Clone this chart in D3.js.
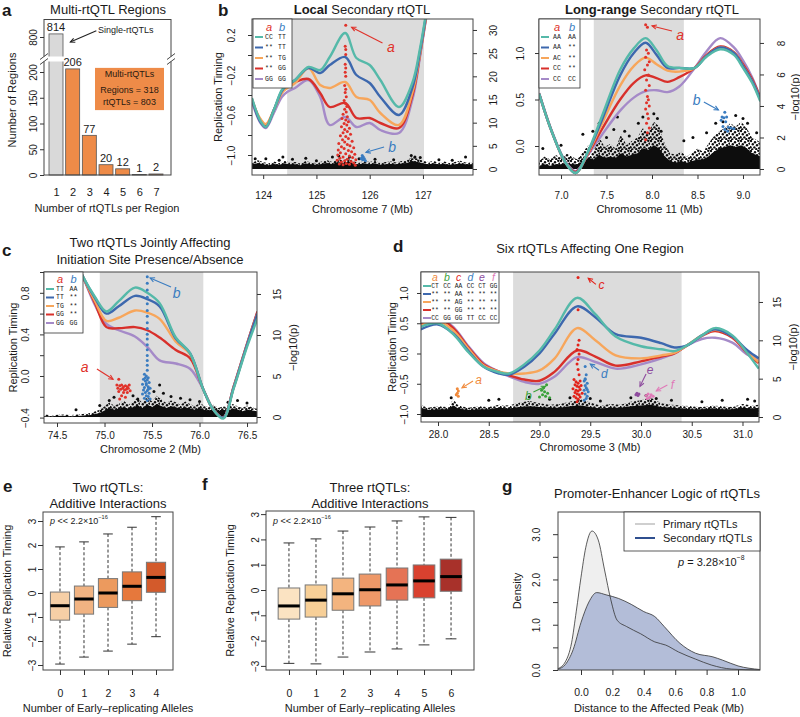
<!DOCTYPE html>
<html><head><meta charset="utf-8">
<script src="https://cdn.jsdelivr.net/npm/d3@7/dist/d3.min.js"></script>
<style>
html,body{margin:0;padding:0;background:#fff;}
svg{display:block;font-family:"Liberation Sans",Arial,Helvetica,sans-serif;}
</style></head><body>
<svg id="fig" width="800" height="717"></svg>
<script>
// ================= DATA =================
// ---- panel a ----
const aCats = [1,2,3,4,5,6,7];
const aCounts = [814,206,77,20,12,1,2];
const aLowTicks = [0,50,100,150,200];
const aHighTicks = [800];
const aBoxLines = ["Multi-rtQTLs","Regions = 318","rtQTLs = 803"];

// ---- genotype groups (teal, blue, orange, red, purple) ----
const grpColors = ["#55b9a9","#3d68ae","#f7a65b","#d8302b","#a58ac8"];

// ---- panel b (left): chr7 ----
const bL_shade = [124.45,127.02];
const bL_x = [123.79,123.95,124.05,124.2,124.35,124.45,124.6,124.85,125.07,125.25,125.54,125.75,126.0,126.2,126.55,126.8,126.95,127.1,127.4];
const bL_teal   = [-0.43,-0.66,-0.72,-0.55,-0.35,-0.30,-0.25,-0.12,-0.15,-0.02,0.22,-0.03,-0.10,-0.25,-0.52,-0.28,0.08,0.55,1.4];
const bL_blue   = [-0.45,-0.67,-0.72,-0.55,-0.36,-0.30,-0.25,-0.13,-0.18,-0.10,-0.02,-0.20,-0.28,-0.42,-0.60,-0.33,0.05,0.53,1.4];
const bL_orange = [-0.46,-0.64,-0.69,-0.55,-0.38,-0.33,-0.28,-0.13,-0.30,-0.33,-0.27,-0.42,-0.45,-0.58,-0.70,-0.38,0.03,0.52,1.4];
const bL_red    = [-0.44,-0.66,-0.71,-0.55,-0.37,-0.31,-0.27,-0.24,-0.38,-0.52,-0.48,-0.63,-0.63,-0.68,-0.73,-0.41,0.02,0.51,1.4];
const bL_purple = [-0.47,-0.68,-0.73,-0.58,-0.42,-0.37,-0.33,-0.25,-0.42,-0.70,-0.62,-0.72,-0.68,-0.75,-0.78,-0.45,0.00,0.50,1.4];
const bL_geno = ["CC TT","** TT","** TG","** GG","GG GG"];
const bL_xTicks = [124,125,126,127];
const bL_rtTicks = [-1.0,-0.8,-0.6,-0.4,-0.2,0.0,0.2];
const bL_rtLabels = ["\u22121.0","","\u22120.6","","\u22120.2","","0.2"];
const bL_pTicks = [0,5,10,15,20,25,30];
const bL_bandX = [123.79,123.9,124.0,124.1,124.2,124.3,124.4,124.5,124.6,124.7,124.8,124.9,125.0,125.1,125.2,125.3,125.4,125.5,125.6,125.7,125.8,125.9,126.0,126.1,126.2,126.3,126.4,126.5,126.6,126.7,126.8,126.9,127.0,127.1,127.2,127.3,127.4,127.5,127.6,127.7,127.8,127.94];
const bL_bandTop = [1.4,1.9,1.5,1.2,1.6,1.3,1.8,1.4,1.5,1.2,1.7,1.4,1.3,1.6,1.9,1.5,2.2,1.8,2.4,1.6,1.4,1.7,1.5,1.8,1.3,1.5,1.6,1.4,1.7,1.9,2.6,2.2,1.8,1.5,1.7,1.4,1.6,1.3,1.5,1.8,1.4,1.5];
const bL_bandCore = [0.9,1.3,1.0,0.8,1.1,0.9,1.2,1.0,1.0,0.8,1.2,1.0,0.9,1.1,1.3,1.0,1.5,1.2,1.6,1.1,1.0,1.2,1.0,1.2,0.9,1.0,1.1,1.0,1.2,1.3,1.7,1.5,1.2,1.0,1.2,1.0,1.1,0.9,1.0,1.2,1.0,1.0];
const bL_black = [[123.85,2.2],[124.05,2.2],[124.3,1.9],[124.37,2.6],[124.55,2.1],[124.8,2.3],[125.0,1.8],[125.3,2.6],[125.42,2.8],[125.62,2.6],[125.8,2.2],[126.1,2.1],[126.45,2.0],[126.78,2.9],[126.85,2.6],[126.95,2.5],[127.3,2.0],[127.55,1.9],[127.8,2.6]];
const bL_ptsA = [[125.55,31.0],[125.54,26.5],[125.55,25.8],[125.55,24.7],[125.54,22.6],[125.55,21.8],[125.54,20.9],[125.55,20.0],[125.53,18.0],[125.55,17.2],[125.54,16.5],[125.56,15.6],[125.52,14.8],[125.55,14.1],[125.57,13.5],[125.53,12.9],[125.56,12.3],[125.5,11.8],[125.58,11.3],[125.48,10.9],[125.55,10.6],[125.6,10.2],[125.52,9.8],[125.57,9.5],[125.47,9.1],[125.62,8.8],[125.53,8.5],[125.58,8.1],[125.5,7.8],[125.64,7.5],[125.45,7.2],[125.55,7.0],[125.6,6.6],[125.49,6.3],[125.67,6.0],[125.53,5.8],[125.42,5.5],[125.58,5.3],[125.63,5.0],[125.47,4.8],[125.7,4.6],[125.52,4.4],[125.41,4.1],[125.6,4.0],[125.66,3.7],[125.45,3.5],[125.55,3.3],[125.72,3.2],[125.4,3.0],[125.62,2.8],[125.5,2.6],[125.68,2.5],[125.44,2.3],[125.58,2.1],[125.74,2.0],[125.39,1.9],[125.53,1.8],[125.65,1.6],[125.47,1.5],[125.7,1.3],[125.56,1.2],[125.43,1.1],[125.62,1.0],[125.5,0.9],[125.73,0.8]];
const bL_ptsB = [[125.86,2.9],[125.88,2.6],[125.85,2.4],[125.9,2.2],[125.87,2.0],[125.92,1.8],[125.84,2.2]];

// ---- panel b (right): chr11 ----
const bR_shade = [7.36,8.35];
const bR_x = [6.76,6.9,7.05,7.16,7.3,7.45,7.65,7.8,7.93,8.05,8.17,8.3,8.47,8.6,8.75,8.9,9.0,9.1,9.19];
const bR_teal   = [0.56,0.15,-0.18,-0.29,-0.05,0.32,0.82,1.05,1.16,1.03,0.86,0.84,0.84,0.96,1.04,0.98,0.84,0.68,0.48];
const bR_blue   = [0.56,0.15,-0.18,-0.29,-0.06,0.28,0.76,1.00,1.11,0.98,0.84,0.84,0.84,0.97,1.06,1.00,0.86,0.70,0.50];
const bR_orange = [0.56,0.15,-0.18,-0.29,-0.07,0.24,0.65,0.86,0.95,0.88,0.81,0.80,0.84,0.97,1.06,1.00,0.86,0.70,0.50];
const bR_red    = [0.56,0.15,-0.18,-0.28,-0.08,0.18,0.50,0.68,0.76,0.73,0.69,0.74,0.84,0.98,1.07,1.01,0.88,0.72,0.52];
const bR_purple = [0.57,0.16,-0.17,-0.27,-0.09,0.12,0.38,0.52,0.59,0.60,0.58,0.64,0.84,1.02,1.16,1.06,0.92,0.74,0.52];
const bR_geno = ["AA AA","AA **","AC **","CC **","CC CC"];
const bR_xTicks = [7.0,7.5,8.0,8.5,9.0];
const bR_rtTicks = [0.0,0.5,1.0];
const bR_pTicks = [0,2,4,6,8];
const bR_bandX = [6.76,6.82,6.88,6.94,7.0,7.06,7.12,7.18,7.24,7.3,7.36,7.42,7.48,7.54,7.6,7.66,7.72,7.78,7.84,7.9,7.96,8.02,8.08,8.14,8.2,8.26,8.32,8.38,8.44,8.5,8.56,8.62,8.68,8.74,8.8,8.86,8.92,8.98,9.04,9.1,9.19];
const bR_bandTop = [0.5,0.8,0.6,0.9,0.7,1.0,0.8,0.6,1.1,1.5,1.2,2.0,1.4,1.6,1.3,2.2,1.5,1.8,2.0,2.6,2.3,3.0,2.7,1.6,1.0,0.9,1.1,0.8,1.0,1.3,1.1,1.6,2.1,2.4,2.6,2.9,2.7,3.0,2.6,2.0,1.7];
const bR_bandCore = [0.2,0.3,0.2,0.3,0.3,0.4,0.3,0.3,0.5,0.7,0.6,0.9,0.7,0.8,0.7,1.0,0.8,0.9,1.0,1.3,1.2,1.5,1.3,0.8,0.5,0.4,0.5,0.4,0.5,0.6,0.6,0.8,1.1,1.3,1.4,1.5,1.4,1.5,1.3,1.0,0.8];
const bR_black = [[6.8,1.3],[7.0,1.5],[7.24,2.2],[7.35,2.4],[7.42,2.9],[7.5,2.0],[7.58,2.5],[7.62,3.3],[7.7,2.4],[7.75,2.1],[7.85,2.9],[7.9,3.3],[8.02,3.5],[8.06,3.2],[8.1,2.4],[8.35,1.8],[8.45,2.0],[8.6,2.3],[8.7,2.9],[8.78,3.0],[8.92,3.4],[9.0,3.2],[9.05,2.9],[9.15,2.3]];
const bR_ptsA = [[7.93,9.15],[7.95,9.0],[7.94,7.56],[7.96,7.35],[7.93,7.1],[7.97,6.8],[7.95,6.6],[7.92,6.3],[7.96,5.97],[7.94,5.65],[7.97,5.3],[7.93,5.0],[7.95,4.6],[7.96,4.4],[7.94,4.2],[7.97,4.0],[7.93,3.8],[7.95,3.5],[7.96,3.2],[7.94,2.9],[7.97,2.6],[7.95,2.3],[7.93,1.85]];
const bR_ptsB = [[8.80,3.6],[8.77,3.3],[8.79,3.25],[8.82,3.3],[8.76,3.1],[8.81,3.0],[8.78,2.7],[8.84,2.65],[8.87,2.6],[8.8,2.5],[8.9,2.55],[8.83,2.4]];

// ---- panel c: chr2 ----
const c_shade = [74.95,76.04];
const c_x = [74.36,74.5,74.65,74.77,74.9,75.02,75.15,75.32,75.45,75.58,75.75,75.9,76.04,76.15,76.25,76.36,76.5,76.61];
const c_teal   = [2.0,1.5,1.2,0.96,0.76,0.62,0.72,0.85,0.80,0.70,0.37,0.22,-0.13,-0.33,-0.41,-0.12,0.28,0.55];
const c_blue   = [2.0,1.5,1.2,0.96,0.75,0.60,0.67,0.77,0.74,0.67,0.36,0.22,-0.13,-0.33,-0.40,-0.11,0.30,0.60];
const c_orange = [2.0,1.5,1.2,0.96,0.72,0.53,0.56,0.63,0.61,0.55,0.33,0.21,-0.13,-0.33,-0.40,-0.11,0.30,0.60];
const c_red    = [2.0,1.5,1.2,0.96,0.70,0.47,0.46,0.47,0.44,0.37,0.25,0.17,-0.13,-0.33,-0.40,-0.10,0.31,0.62];
const c_purple = [2.0,1.5,1.2,0.96,0.68,0.50,0.44,0.38,0.28,0.15,0.12,0.07,-0.13,-0.33,-0.40,-0.10,0.31,0.62];
const c_geno = ["TT AA","TT **","TG **","GG **","GG GG"];
const c_xTicks = [74.5,75.0,75.5,76.0,76.5];
const c_rtTicks = [-0.4,-0.2,0.0,0.2,0.4,0.6,0.8,1.0];
const c_rtLabels = ["\u22120.4","","0.0","","0.4","","0.8",""];
const c_pTicks = [0,5,10,15];
const c_bandX = [74.36,74.45,74.55,74.65,74.75,74.85,74.95,75.0,75.05,75.1,75.15,75.2,75.25,75.3,75.35,75.4,75.45,75.5,75.55,75.6,75.65,75.7,75.75,75.8,75.85,75.9,75.95,76.0,76.05,76.1,76.15,76.2,76.25,76.3,76.35,76.4,76.45,76.5,76.55,76.61];
const c_bandTop = [0.3,0.2,0.3,0.25,0.35,0.5,0.9,1.3,1.8,1.4,1.6,2.0,1.5,1.9,2.3,1.7,2.4,1.9,2.6,2.1,1.7,2.0,1.8,1.5,1.9,1.6,1.3,1.7,1.4,1.2,1.5,1.1,1.3,1.2,1.6,1.3,1.1,1.4,1.2,1.0];
const c_bandCore = [0.1,0.1,0.15,0.1,0.15,0.25,0.5,0.8,1.1,0.9,1.0,1.2,1.0,1.2,1.4,1.1,1.5,1.2,1.6,1.3,1.1,1.3,1.2,1.0,1.2,1.0,0.9,1.1,0.9,0.8,1.0,0.7,0.9,0.8,1.0,0.9,0.7,0.9,0.8,0.7];
const c_black = [[74.7,0.9],[74.95,1.4],[75.05,2.0],[75.1,2.4],[75.3,2.6],[75.35,2.2],[75.52,3.1],[75.58,3.9],[75.62,2.9],[75.7,2.5],[75.8,2.3],[75.9,2.1],[76.0,1.9],[76.3,1.8],[76.4,2.0],[76.5,1.7]];
const c_ptsA = [[75.15,4.6],[75.13,3.9],[75.16,3.8],[75.18,3.9],[75.2,3.7],[75.22,3.8],[75.24,3.7],[75.26,3.9],[75.14,3.5],[75.17,3.4],[75.19,3.5],[75.21,3.3],[75.23,3.4],[75.25,3.5],[75.27,3.2],[75.15,3.1],[75.2,3.0],[75.24,3.0],[75.18,2.6],[75.22,2.4],[75.16,2.2]];
const c_ptsB = [[75.45,17.1],[75.45,16.3],[75.45,15.5],[75.45,14.6],[75.45,13.8],[75.45,13.0],[75.45,12.3],[75.45,11.5],[75.45,10.8],[75.45,10.1],[75.45,9.5],[75.45,8.8],[75.45,8.2],[75.45,7.5],[75.45,6.9],[75.45,6.3],[75.45,5.7],[75.42,5.2],[75.44,5.0],[75.46,4.8],[75.41,4.6],[75.43,4.4],[75.45,4.5],[75.47,4.2],[75.40,4.0],[75.44,3.9],[75.46,3.7],[75.42,3.6],[75.48,3.5],[75.41,3.3],[75.45,3.2],[75.43,3.0],[75.47,2.9],[75.40,2.8],[75.44,2.6],[75.46,2.5],[75.42,2.3],[75.48,2.2],[75.45,2.0],[75.43,4.8],[75.44,4.1],[75.46,3.4]];

// ---- panel d: chr3 ----
const d_shade = [28.74,30.40];
const d_x = [27.83,28.0,28.15,28.3,28.45,28.6,28.7,28.85,29.0,29.15,29.37,29.55,29.75,30.0,30.2,30.33,30.45,30.6,30.73,30.9,31.05,31.16];
const d_teal   = [0.44,0.50,0.32,0.02,-0.22,-0.31,-0.33,-0.18,0.05,0.40,0.92,0.65,0.28,0.12,0.07,0.04,0.13,0.30,0.42,0.30,0.00,-0.25];
const d_blue   = [0.40,0.48,0.33,0.04,-0.22,-0.33,-0.35,-0.22,0.00,0.33,0.78,0.60,0.32,0.26,0.17,0.10,0.13,0.30,0.40,0.28,0.05,-0.08];
const d_orange = [0.46,0.54,0.38,0.08,-0.20,-0.30,-0.33,-0.33,-0.28,-0.08,0.42,0.22,-0.03,-0.08,-0.03,0.01,0.13,0.30,0.39,0.28,0.02,-0.14];
const d_red    = [0.48,0.58,0.42,0.10,-0.18,-0.30,-0.36,-0.43,-0.45,-0.30,0.05,-0.05,-0.20,-0.13,-0.05,0.00,0.13,0.29,0.37,0.26,0.00,-0.16];
const d_purple = [0.48,0.60,0.44,0.12,-0.16,-0.30,-0.38,-0.47,-0.50,-0.38,-0.06,-0.14,-0.25,-0.18,-0.08,0.00,0.13,0.24,0.26,0.18,-0.02,-0.10];
const d_geno = ["CT CC AA CC CT GG","** ** AA ** ** **","** ** AG ** ** **","** ** GG ** ** **","CC GG GG TT CC CC"];
const d_xTicks = [28.0,28.5,29.0,29.5,30.0,30.5,31.0];
const d_rtTicks = [-1.0,-0.5,0.0,0.5,1.0];
const d_pTicks = [0,5,10,15];
const d_bandX = [27.83,27.9,28.0,28.1,28.15,28.2,28.3,28.4,28.5,28.6,28.7,28.8,28.9,29.0,29.1,29.2,29.3,29.4,29.5,29.6,29.7,29.8,29.9,30.0,30.1,30.2,30.3,30.4,30.5,30.6,30.7,30.8,30.9,31.0,31.1,31.16];
const d_bandTop = [1.6,1.2,1.4,1.3,2.3,1.5,1.2,1.4,1.3,1.6,1.5,1.9,2.1,1.8,1.6,1.7,2.0,2.3,1.9,1.5,1.7,1.6,2.0,2.2,2.5,1.8,1.6,1.5,1.4,1.3,1.5,1.4,1.3,1.7,1.5,1.6];
const d_bandCore = [1.2,0.9,1.0,1.0,1.5,1.1,0.9,1.0,1.0,1.2,1.1,1.3,1.4,1.3,1.2,1.2,1.4,1.5,1.3,1.1,1.2,1.2,1.4,1.5,1.6,1.3,1.2,1.1,1.0,1.0,1.1,1.0,1.0,1.2,1.1,1.2];
const d_black = [[28.13,2.5],[28.5,2.2],[28.6,2.3],[28.9,2.6],[29.1,2.3],[29.3,2.5],[29.5,2.4],[29.6,2.1],[29.9,2.5],[30.05,2.8],[30.15,2.4],[30.3,2.2],[30.6,2.0],[30.8,2.2],[31.05,2.3],[31.12,2.1]];
const d_ptsA = [[28.19,3.7],[28.2,3.4],[28.18,2.9],[28.2,2.7],[28.19,3.1]];
const d_ptsB = [[29.07,4.2],[29.02,3.5],[29.05,3.3],[29.08,3.1],[29.03,2.9],[29.06,2.7],[29.0,2.6],[29.1,2.5],[29.04,3.8]];
const d_ptsC = [[29.38,18.2],[29.38,14.0],[29.39,10.0],[29.38,9.4],[29.37,8.8],[29.39,8.2],[29.38,7.5],[29.37,6.9],[29.38,6.2],[29.39,5.5],[29.34,4.9],[29.36,4.6],[29.38,4.4],[29.4,4.7],[29.35,4.2],[29.37,4.0],[29.39,3.9],[29.41,4.1],[29.33,3.7],[29.36,3.5],[29.38,3.4],[29.4,3.6],[29.35,3.2],[29.37,3.0],[29.39,2.9],[29.42,3.1],[29.34,2.7],[29.36,2.5],[29.38,2.3],[29.4,2.6],[29.37,2.0]];
const d_ptsD = [[29.45,6.6],[29.46,5.5],[29.45,5.0],[29.44,4.7],[29.47,4.4],[29.45,4.1],[29.46,3.8],[29.44,3.5],[29.48,3.3],[29.45,3.0],[29.47,2.7],[29.46,2.4],[29.44,2.2],[29.45,4.9],[29.47,3.6]];
const d_ptsE = [[29.96,3.1],[29.97,2.8],[29.95,2.9],[29.98,3.0]];
const d_ptsF = [[30.05,2.8],[30.07,3.0],[30.09,2.6],[30.06,2.4],[30.1,2.9],[30.08,2.5],[30.12,2.7]];

// ---- panel e: two rtQTLs ----
const eCats = [0,1,2,3,4];
const eLow  = [-2.96,-2.67,-2.42,-2.13,-1.82];
const eQ1   = [-1.13,-0.88,-0.60,-0.32,0.03];
const eMed  = [-0.53,-0.25,0.00,0.28,0.65];
const eQ3   = [0.04,0.29,0.60,0.88,1.28];
const eHigh = [1.92,2.13,2.46,2.74,3.18];
const eColors = ["#f6cfa6","#f1b382","#ec9a5e","#e6783c","#d35a2b"];
// ---- panel f: three rtQTLs ----
const fCats = [0,1,2,3,4,5,6];
const fLow  = [-2.90,-2.92,-2.65,-2.45,-2.33,-2.17,-1.93];
const fQ1   = [-1.15,-1.07,-0.80,-0.63,-0.40,-0.31,-0.05];
const fMed  = [-0.63,-0.40,-0.15,0.01,0.20,0.36,0.53];
const fQ3   = [0.08,0.20,0.47,0.63,0.87,0.99,1.22];
const fHigh = [1.86,2.02,2.33,2.49,2.73,2.89,2.87];
const fColors = ["#fbe3c2","#f7cf97","#f3b47f","#ee9868","#e57355","#d9412f","#a8312a"];
const boxYTicks = [-3,-2,-1,0,1,2,3];

// ---- panel g: densities ----
const gPrimX = [-0.147,-0.1,-0.06,-0.03,0.0,0.03,0.07,0.11,0.15,0.19,0.23,0.29,0.38,0.47,0.54,0.62,0.73,0.83,0.96,1.14];
const gPrimY = [0.03,0.18,0.6,1.3,2.05,2.7,3.07,2.87,2.21,1.55,1.1,0.96,0.80,0.62,0.55,0.40,0.24,0.11,0.02,0.0];
const gSecX = [-0.147,-0.1,-0.05,0.0,0.05,0.1,0.16,0.24,0.32,0.40,0.47,0.53,0.63,0.73,0.84,0.90,1.0,1.14];
const gSecY = [0.02,0.12,0.45,1.05,1.5,1.71,1.66,1.58,1.45,1.29,1.18,0.96,0.59,0.37,0.29,0.22,0.09,0.01];
const gXTicks = [0.0,0.2,0.4,0.6,0.8,1.0];
const gYTicks = [0,0.5,1.0,1.5,2.0,2.5,3.0];
const gYLabels = ["0.0","","1.0","","2.0","","3.0"];

// ================= DRAWING =================
const svg = d3.select("#fig");
const INK = "#1a1a1a";
const MONO = "'Liberation Mono','DejaVu Sans Mono',monospace";
const RED = "#e0322a", BLUE = "#3a7cc0";

// irregular dotted texture for the sparser upper part of the background SNP cloud
const defs = svg.append("defs");
const pat = defs.append("pattern").attr("id", "snpdots").attr("width", 10).attr("height", 10)
  .attr("patternUnits", "userSpaceOnUse");
[[1,1],[5,2.2],[8.3,0.8],[2.8,4.3],[7,5.2],[0.5,7.2],[4.4,7.4],[9.2,8.3],[2.2,9.4],[6.3,9.2],[9.5,3.6]]
  .forEach(p => pat.append("circle").attr("cx", p[0]).attr("cy", p[1]).attr("r", 1.2).attr("fill", "#0d0d0d"));

function tx(g, x, y, s, o = {}) {
  const t = g.append("text").attr("x", x).attr("y", y)
    .attr("font-size", o.fs || 11).attr("fill", o.fill || INK)
    .attr("text-anchor", o.anchor || "middle").attr("dominant-baseline", "central");
  if (o.weight) t.attr("font-weight", o.weight);
  if (o.italic) t.attr("font-style", "italic");
  if (o.family) t.attr("font-family", o.family);
  if (o.rot) t.attr("transform", `rotate(${o.rot},${x},${y})`);
  if (s !== null) t.text(s);
  return t;
}
function sci(g, x, y, pre, exp, fs) {
  const t = tx(g, x, y, null, {fs, anchor: "start"});
  t.append("tspan").attr("font-style", "italic").text("p");
  t.append("tspan").text(pre);
  t.append("tspan").attr("font-size", fs * 0.62).attr("dy", -fs * 0.42).text(exp);
}
function yAxisR(g, scale, ticks, labels, xPos, side, off, fs = 10, len = 4) {
  const ax = (side < 0 ? d3.axisLeft(scale) : d3.axisRight(scale))
    .tickValues(ticks).tickSize(len).tickFormat((d, i) => labels[i]);
  const a = g.append("g").attr("transform", `translate(${xPos},0)`).call(ax);
  a.select(".domain").remove();
  a.attr("font-family", null).attr("font-size", null);
  a.selectAll(".tick line").attr("stroke", "#333");
  a.selectAll(".tick text").attr("x", null).attr("dy", null)
    .attr("transform", `translate(${side * off},0) rotate(-90)`)
    .attr("text-anchor", "middle").attr("dominant-baseline", "central")
    .attr("font-size", fs).attr("fill", INK);
  return a;
}
function xAxisR(g, scale, ticks, labels, yPos, off, fs = 10, len = 4) {
  const a = g.append("g").attr("transform", `translate(0,${yPos})`)
    .call(d3.axisBottom(scale).tickValues(ticks).tickSize(len).tickFormat((d, i) => labels[i]));
  a.select(".domain").remove();
  a.attr("font-family", null).attr("font-size", null);
  a.selectAll(".tick line").attr("stroke", "#333");
  a.selectAll(".tick text").attr("y", off).attr("dy", null)
    .attr("dominant-baseline", "central").attr("font-size", fs).attr("fill", INK);
  return a;
}
function arrow(g, x1, y1, x2, y2, color, head = 5) {
  g.append("line").attr("x1", x1).attr("y1", y1).attr("x2", x2).attr("y2", y2)
    .attr("stroke", color).attr("stroke-width", 1.1);
  const a = Math.atan2(y2 - y1, x2 - x1);
  const p = da => [x2 - head * Math.cos(a + da), y2 - head * Math.sin(a + da)];
  const A = p(0.45), B = p(-0.45);
  g.append("path").attr("d", `M${A[0]},${A[1]}L${x2},${y2}L${B[0]},${B[1]}`)
    .attr("fill", "none").attr("stroke", color).attr("stroke-width", 1.1);
}
function box(g, L, T, R, B) {
  g.append("rect").attr("x", L).attr("y", T).attr("width", R - L).attr("height", B - T)
    .attr("fill", "none").attr("stroke", "#444").attr("stroke-width", 1);
}
const f1 = d3.format(".1f");

function genomic(c) {
  const g = svg.append("g");
  const x = d3.scaleLinear().domain(c.xDom).range([c.L, c.R]);
  const yR = d3.scaleLinear().domain(c.rtDom).range([c.B, c.T]);
  const yP = d3.scaleLinear().domain(c.pDom).range([c.B, c.T]);
  const id = "clip-" + c.id;
  defs.append("clipPath").attr("id", id).append("rect")
    .attr("x", c.L).attr("y", c.T).attr("width", c.R - c.L).attr("height", c.B - c.T);
  const pg = g.append("g").attr("clip-path", `url(#${id})`);
  pg.append("rect").attr("x", x(c.shade[0])).attr("y", c.T)
    .attr("width", x(c.shade[1]) - x(c.shade[0])).attr("height", c.B - c.T).attr("fill", "#dcdcdc");
  const band = d3.area().x((d, i) => x(c.bandX[i])).y0(yP(0)).y1(d => yP(d));
  pg.append("path").datum(c.bandTop).attr("fill", "url(#snpdots)").attr("d", band);
  pg.append("path").datum(c.bandCore).attr("fill", "#0d0d0d").attr("d", band);
  pg.selectAll(null).data(c.blackPts).join("circle")
    .attr("cx", d => x(d[0])).attr("cy", d => yP(d[1])).attr("r", 1.5).attr("fill", "#0d0d0d");
  const line = d3.line().x((d, i) => x(c.lineX[i])).y(d => yR(d)).curve(d3.curveCatmullRom.alpha(0.5));
  for (let k = c.series.length - 1; k >= 0; k--) {
    pg.append("path").datum(c.series[k]).attr("d", line).attr("fill", "none")
      .attr("stroke", grpColors[k]).attr("stroke-width", 2.4);
  }
  c.colored.forEach(s => {
    pg.selectAll(null).data(s.pts).join("circle")
      .attr("cx", d => x(d[0])).attr("cy", d => yP(d[1])).attr("r", 1.5).attr("fill", s.color);
  });
  box(g, c.L, c.T, c.R, c.B);
  xAxisR(g, x, c.xTicks, c.xLabels, c.B, c.xOff);
  yAxisR(g, yR, c.rtTicks, c.rtLabels, c.L, -1, c.rtOff);
  yAxisR(g, yP, c.pTicks, c.pTicks.map(String), c.R, 1, c.pOff);
  tx(g, (c.L + c.R) / 2, c.xTitleY, c.xTitle, {fs: 11});
  if (c.rtTitleX) tx(g, c.rtTitleX, (c.T + c.B) / 2, "Replication Timing", {fs: 11, rot: -90});
  if (c.pTitleX) tx(g, c.pTitleX, (c.T + c.B) / 2, "\u2212log10(p)", {fs: 11, rot: -90});
  // legend
  const lg = c.legend;
  g.append("rect").attr("x", lg.L).attr("y", lg.T).attr("width", lg.w).attr("height", lg.h)
    .attr("fill", "#fff").attr("stroke", "#333").attr("stroke-width", 0.8);
  lg.headers.forEach((h, j) => tx(g, lg.L + lg.colX[j], lg.T + lg.hdrY, h[0], {fs: lg.fsHdr, italic: true, fill: h[1]}));
  lg.rows.forEach((r, k) => {
    const yy = lg.T + lg.row0 + k * lg.step;
    g.append("line").attr("x1", lg.L + 2).attr("x2", lg.L + 10).attr("y1", yy).attr("y2", yy)
      .attr("stroke", grpColors[k]).attr("stroke-width", 2);
    r.split(" ").forEach((s, j) => tx(g, lg.L + lg.colX[j], yy, s, {fs: lg.fsMono, family: MONO}));
  });
  // annotations
  c.notes.forEach(n => {
    arrow(g, x(n.from[0]), yP(n.from[1]), x(n.to[0]), yP(n.to[1]), n.color);
    tx(g, x(n.label[0]), yP(n.label[1]), n.t, {fs: c.noteFs, italic: true, fill: n.color});
  });
  return g;
}

// ---------- panel a ----------
(function () {
  const g = svg.append("g");
  const L = 44, R = 171, T = 19.5, B = 175;
  const xa = d3.scaleLinear().domain([1, 7]).range([56, 156]);
  const yLow = d3.scaleLinear().domain([0, 200]).range([175, 72]);
  const yHigh = d3.scaleLinear().domain([700, 800]).range([59, 37]);
  const bw = 0.84 * (xa(2) - xa(1));
  const yv = v => v > 300 ? yHigh(v) : yLow(v);
  g.selectAll(null).data(aCats).join("rect")
    .attr("x", d => xa(d) - bw / 2).attr("width", bw)
    .attr("y", (d, i) => yv(aCounts[i])).attr("height", (d, i) => yLow(0) - yv(aCounts[i]))
    .attr("fill", (d, i) => i === 0 ? "#d9d9d9" : "#ee8b48").attr("stroke", "#555").attr("stroke-width", 0.8);
  box(g, L, T, R, B);
  // axis break
  g.append("rect").attr("x", L - 6).attr("y", 56.5).attr("width", R - L + 12).attr("height", 5).attr("fill", "#fff");
  [L, R].forEach(xx => [56.5, 61.5].forEach(yy =>
    g.append("line").attr("x1", xx - 4).attr("y1", yy + 3).attr("x2", xx + 4).attr("y2", yy - 3).attr("stroke", "#333").attr("stroke-width", 0.9)));
  // value labels (drawn after the break so none is hidden)
  g.selectAll(null).data(aCats).join("text")
    .attr("x", d => xa(d)).attr("y", (d, i) => yv(aCounts[i]) - 6.5)
    .attr("text-anchor", "middle").attr("dominant-baseline", "central").attr("font-size", 11).attr("fill", INK)
    .text((d, i) => aCounts[i]);
  yAxisR(g, yLow, aLowTicks, aLowTicks.map(String), L, -1, 11, 10);
  yAxisR(g, yHigh, aHighTicks, aHighTicks.map(String), L, -1, 11, 10);
  const xb = xAxisR(g, xa, aCats, aCats.map(String), B, 17, 11, 0);
  xb.selectAll(".tick line").remove();
  tx(g, 107, 208, "Number of rtQTLs per Region", {fs: 11});
  tx(g, 12, 100, "Number of Regions", {fs: 11, rot: -90});
  tx(g, 108, 9, "Multi-rtQTL Regions", {fs: 13});
  // orange annotation box (data coords)
  g.append("rect").attr("x", xa(3.34)).attr("y", yLow(208)).attr("width", xa(7.48) - xa(3.34))
    .attr("height", yLow(126) - yLow(208)).attr("fill", "#ee8b48");
  aBoxLines.forEach((s, i) => tx(g, xa(5.41), yLow([196, 166, 141][i]), s, {fs: 9, fill: "#2a1a10"}));
  tx(g, xa(3.52), yHigh(832), "Single-rtQTLs", {fs: 9, anchor: "start"});
  arrow(g, xa(3.42), yHigh(828), xa(1.86), yHigh(777), "#222", 5);
})();

// ---------- panel b ----------
genomic({
  id: "bL", L: 252, R: 473, T: 19, B: 175,
  xDom: [123.79, 127.94], rtDom: [-1.2, 0.36], pDom: [-1.295, 32.37],
  shade: bL_shade, lineX: bL_x, series: [bL_teal, bL_blue, bL_orange, bL_red, bL_purple],
  bandX: bL_bandX, bandTop: bL_bandTop, bandCore: bL_bandCore, blackPts: bL_black,
  colored: [{pts: bL_ptsA, color: RED}, {pts: bL_ptsB, color: BLUE}],
  xTicks: bL_xTicks, xLabels: bL_xTicks.map(String), xOff: 20,
  rtTicks: bL_rtTicks, rtLabels: bL_rtLabels, rtOff: 21,
  pTicks: bL_pTicks, pOff: 20,
  xTitle: "Chromosome 7 (Mb)", xTitleY: 209, rtTitleX: 218, pTitleX: null,
  legend: {L: 253, T: 19, w: 39, h: 69, hdrY: 8, row0: 18, step: 10.5, colX: [16, 29],
    headers: [["a", RED], ["b", BLUE]], rows: bL_geno, fsMono: 6.5, fsHdr: 11},
  noteFs: 14,
  notes: [
    {t: "a", color: RED, label: [126.40, 26.3], from: [126.24, 27.2], to: [125.66, 30.6]},
    {t: "b", color: BLUE, label: [126.42, 4.75], from: [126.27, 4.75], to: [125.93, 3.6]}
  ]
});
genomic({
  id: "bR", L: 539, R: 760, T: 19, B: 175,
  xDom: [6.758, 9.187], rtDom: [-0.312, 1.366], pDom: [-0.381, 9.52],
  shade: bR_shade, lineX: bR_x, series: [bR_teal, bR_blue, bR_orange, bR_red, bR_purple],
  bandX: bR_bandX, bandTop: bR_bandTop, bandCore: bR_bandCore, blackPts: bR_black,
  colored: [{pts: bR_ptsA, color: RED}, {pts: bR_ptsB, color: BLUE}],
  xTicks: bR_xTicks, xLabels: bR_xTicks.map(f1), xOff: 20,
  rtTicks: bR_rtTicks, rtLabels: bR_rtTicks.map(f1), rtOff: 19,
  pTicks: bR_pTicks, pOff: 21,
  xTitle: "Chromosome 11 (Mb)", xTitleY: 209, rtTitleX: null, pTitleX: 795,
  legend: {L: 539, T: 19, w: 41, h: 69, hdrY: 8, row0: 18, step: 10.5, colX: [18, 33],
    headers: [["a", RED], ["b", BLUE]], rows: bR_geno, fsMono: 6.5, fsHdr: 11},
  noteFs: 14,
  notes: [
    {t: "a", color: RED, label: [8.31, 8.5], from: [8.22, 8.76], to: [8.0, 9.08]},
    {t: "b", color: BLUE, label: [8.49, 4.38], from: [8.57, 4.25], to: [8.73, 3.75]}
  ]
});

// ---------- panel c ----------
genomic({
  id: "c", L: 44, R: 257, T: 272, B: 423,
  xDom: [74.363, 76.605], rtDom: [-0.452, 1.0], pDom: [-0.73, 17.68],
  shade: c_shade, lineX: c_x, series: [c_teal, c_blue, c_orange, c_red, c_purple],
  bandX: c_bandX, bandTop: c_bandTop, bandCore: c_bandCore, blackPts: c_black,
  colored: [{pts: c_ptsA, color: RED}, {pts: c_ptsB, color: BLUE}],
  xTicks: c_xTicks, xLabels: c_xTicks.map(f1), xOff: 12,
  rtTicks: c_rtTicks, rtLabels: c_rtLabels, rtOff: 19,
  pTicks: c_pTicks, pOff: 20,
  xTitle: "Chromosome 2 (Mb)", xTitleY: 449, rtTitleX: 13, pTitleX: 293,
  legend: {L: 44, T: 272, w: 39, h: 61, hdrY: 7, row0: 17, step: 8.5, colX: [16, 29.5],
    headers: [["a", RED], ["b", BLUE]], rows: c_geno, fsMono: 6.5, fsHdr: 11},
  noteFs: 14,
  notes: [
    {t: "a", color: RED, label: [74.79, 6.1], from: [74.92, 5.85], to: [75.09, 4.6]},
    {t: "b", color: BLUE, label: [75.76, 15.1], from: [75.7, 15.85], to: [75.48, 16.95]}
  ]
});

// ---------- panel d ----------
const dCols = {a: "#f08a3c", b: "#3aa13a", c: "#e2231a", d: "#3b7dc0", e: "#8e4c9e", f: "#e07ab8"};
genomic({
  id: "d", L: 421, R: 759, T: 272, B: 422,
  xDom: [27.8325, 31.1626], rtDom: [-1.132, 1.347], pDom: [-0.652, 18.91],
  shade: d_shade, lineX: d_x, series: [d_teal, d_blue, d_orange, d_red, d_purple],
  bandX: d_bandX, bandTop: d_bandTop, bandCore: d_bandCore, blackPts: d_black,
  colored: [{pts: d_ptsA, color: dCols.a}, {pts: d_ptsB, color: dCols.b}, {pts: d_ptsC, color: dCols.c},
            {pts: d_ptsD, color: dCols.d}, {pts: d_ptsE, color: dCols.e}, {pts: d_ptsF, color: dCols.f}],
  xTicks: d_xTicks, xLabels: d_xTicks.map(f1), xOff: 12,
  rtTicks: d_rtTicks, rtLabels: d_rtTicks.map(v => f1(v).replace("-", "\u2212")), rtOff: 17,
  pTicks: d_pTicks, pOff: 18,
  xTitle: "Chromosome 3 (Mb)", xTitleY: 447, rtTitleX: 392, pTitleX: 793,
  legend: {L: 421, T: 272, w: 78, h: 51, hdrY: 4.5, row0: 14, step: 8, colX: [14, 26, 37.5, 49.5, 61, 72.5],
    headers: [["a", dCols.a], ["b", dCols.b], ["c", dCols.c], ["d", dCols.d], ["e", dCols.e], ["f", dCols.f]],
    rows: d_geno, fsMono: 6.3, fsHdr: 10.5},
  noteFs: 12,
  notes: [
    {t: "a", color: dCols.a, label: [28.40, 4.8], from: [28.345, 4.7], to: [28.236, 3.8]},
    {t: "b", color: dCols.b, label: [28.89, 2.7], from: [28.94, 3.26], to: [29.06, 4.0]},
    {t: "c", color: dCols.c, label: [29.61, 17.2], from: [29.556, 17.3], to: [29.48, 18.1]},
    {t: "d", color: dCols.d, label: [29.64, 5.6], from: [29.586, 6.1], to: [29.50, 6.9]},
    {t: "e", color: dCols.e, label: [30.09, 6.1], from: [30.05, 5.6], to: [29.99, 4.0]},
    {t: "f", color: dCols.f, label: [30.31, 4.2], from: [30.26, 4.17], to: [30.15, 3.4]}
  ]
});

// ---------- panels e & f ----------
function boxPanel(c) {
  const g = svg.append("g");
  const x = d3.scaleLinear().domain(c.xDom).range([c.L, c.R]);
  const y = d3.scaleLinear().domain(c.yDom).range([c.B, c.T]);
  const w = (x(1) - x(0)) * 0.8;
  c.cats.forEach((k, i) => {
    const cx = x(k);
    g.append("line").attr("x1", cx).attr("x2", cx).attr("y1", y(c.hi[i])).attr("y2", y(c.q3[i]))
      .attr("stroke", "#333").attr("stroke-dasharray", "3,2.2");
    g.append("line").attr("x1", cx).attr("x2", cx).attr("y1", y(c.q1[i])).attr("y2", y(c.lo[i]))
      .attr("stroke", "#333").attr("stroke-dasharray", "3,2.2");
    [c.hi[i], c.lo[i]].forEach(v => g.append("line").attr("x1", cx - w / 4).attr("x2", cx + w / 4)
      .attr("y1", y(v)).attr("y2", y(v)).attr("stroke", "#333"));
    g.append("rect").attr("x", cx - w / 2).attr("y", y(c.q3[i])).attr("width", w)
      .attr("height", y(c.q1[i]) - y(c.q3[i])).attr("fill", c.colors[i]).attr("stroke", "#777").attr("stroke-width", 1);
    g.append("line").attr("x1", cx - w / 2).attr("x2", cx + w / 2).attr("y1", y(c.med[i])).attr("y2", y(c.med[i]))
      .attr("stroke", "#000").attr("stroke-width", 3);
  });
  box(g, c.L, c.T, c.R, c.B);
  yAxisR(g, y, boxYTicks, boxYTicks.map(v => String(v).replace("-", "\u2212")), c.L, -1, 11, 10, 5);
  xAxisR(g, x, c.cats, c.cats.map(String), c.B, 23, 10.5, 5);
  tx(g, (c.L + c.R) / 2, 708, "Number of Early\u2013replicating Alleles", {fs: 11});
  tx(g, c.L - 36, (c.T + c.B) / 2, "Relative Replication Timing", {fs: 11, rot: -90});
  tx(g, (c.L + c.R) / 2, 487, c.title[0], {fs: 13});
  tx(g, (c.L + c.R) / 2, 503, c.title[1], {fs: 13});
  sci(g, c.L + 7, 521, " << 2.2\u00d710", "\u221216", 9);
}
boxPanel({L: 43, R: 173, T: 512, B: 670, xDom: [-0.708, 4.708], yDom: [-3.208, 3.375],
  cats: eCats, lo: eLow, q1: eQ1, med: eMed, q3: eQ3, hi: eHigh, colors: eColors,
  title: ["Two rtQTLs:", "Additive Interactions"]});
boxPanel({L: 266, R: 474, T: 511, B: 670, xDom: [-0.85, 6.85], yDom: [-3.162, 3.123],
  cats: fCats, lo: fLow, q1: fQ1, med: fMed, q3: fQ3, hi: fHigh, colors: fColors,
  title: ["Three rtQTLs:", "Additive Interactions"]});

// ---------- panel g ----------
(function () {
  const g = svg.append("g");
  const L = 558, R = 760, T = 512, B = 670;
  const x = d3.scaleLinear().domain([-0.1465, 1.14]).range([L, R]);
  const y = d3.scaleLinear().domain([0, 3.49]).range([B, T]);
  const area = xs => d3.area().x((d, i) => x(xs[i])).y0(y(0)).y1(d => y(d)).curve(d3.curveMonotoneX);
  const line = xs => d3.line().x((d, i) => x(xs[i])).y(d => y(d)).curve(d3.curveMonotoneX);
  g.append("path").datum(gPrimY).attr("d", area(gPrimX)).attr("fill", "#efefef");
  g.append("path").datum(gSecY).attr("d", area(gSecX)).attr("fill", "#b3bdd8");
  g.append("path").datum(gPrimY).attr("d", line(gPrimX)).attr("fill", "none").attr("stroke", "#333").attr("stroke-width", 0.8);
  g.append("path").datum(gSecY).attr("d", line(gSecX)).attr("fill", "none").attr("stroke", "#333").attr("stroke-width", 0.8);
  box(g, L, T, R, B);
  yAxisR(g, y, gYTicks, gYLabels, L, -1, 22, 10, 5);
  xAxisR(g, x, gXTicks, gXTicks.map(f1), B, 22, 10.5, 5);
  tx(g, (L + R) / 2, 708, "Distance to the Affected Peak (Mb)", {fs: 11});
  tx(g, 517, (T + B) / 2, "Density", {fs: 11, rot: -90});
  tx(g, 657, 493, "Promoter-Enhancer Logic of rtQTLs", {fs: 13});
  g.append("rect").attr("x", 624).attr("y", T).attr("width", R - 624).attr("height", 39)
    .attr("fill", "#fff").attr("stroke", "#333").attr("stroke-width", 0.8);
  [["Primary rtQTLs", "#cfcfcf", 524], ["Secondary rtQTLs", "#2f4f8f", 538]].forEach(r => {
    g.append("line").attr("x1", 635).attr("x2", 655).attr("y1", r[2]).attr("y2", r[2]).attr("stroke", r[1]).attr("stroke-width", 2);
    tx(g, 663, r[2], r[0], {fs: 11, anchor: "start"});
  });
  sci(g, 678, 562, " = 3.28\u00d710", "\u22128", 11);
})();

// ---------- panel letters & titles ----------
const lettersG = svg.append("g");
[["a", 2, 10], ["b", 218, 10], ["c", 2, 250], ["d", 393, 246], ["e", 3, 486], ["f", 202, 484], ["g", 502, 486]]
  .forEach(l => tx(lettersG, l[1], l[2], l[0], {fs: 17, weight: "bold", anchor: "start"}));
const t1 = tx(lettersG, 362, 9, null, {fs: 13});
t1.append("tspan").attr("font-weight", "bold").text("Local");
t1.append("tspan").text(" Secondary rtQTL");
const t2 = tx(lettersG, 652, 9, null, {fs: 13});
t2.append("tspan").attr("font-weight", "bold").text("Long-range");
t2.append("tspan").text(" Secondary rtQTL");
tx(lettersG, 150, 242, "Two rtQTLs Jointly Affecting", {fs: 13});
tx(lettersG, 150, 259, "Initiation Site Presence/Absence", {fs: 13});
tx(lettersG, 590, 248, "Six rtQTLs Affecting One Region", {fs: 13});
</script></body></html>
